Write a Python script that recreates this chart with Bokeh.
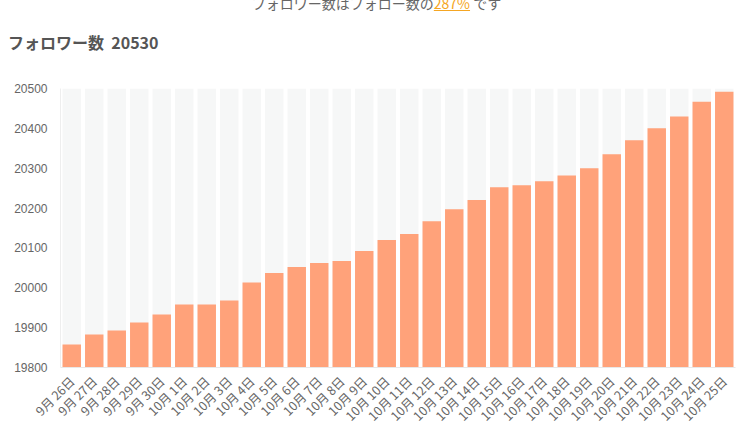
import math
from bokeh.plotting import figure
from bokeh.layouts import column
from bokeh.models import Range1d, FactorRange, FixedTicker, Div
from bokeh.embed import file_html
from bokeh.resources import INLINE

dates = ["9月 26日", "9月 27日", "9月 28日", "9月 29日", "9月 30日",
         "10月 1日", "10月 2日", "10月 3日", "10月 4日", "10月 5日",
         "10月 6日", "10月 7日", "10月 8日", "10月 9日", "10月 10日",
         "10月 11日", "10月 12日", "10月 13日", "10月 14日", "10月 15日",
         "10月 16日", "10月 17日", "10月 18日", "10月 19日", "10月 20日",
         "10月 21日", "10月 22日", "10月 23日", "10月 24日", "10月 25日"]
followers = [19858, 19883, 19893, 19913, 19933,
             19958, 19958, 19968, 20013, 20037,
             20052, 20062, 20067, 20092, 20120,
             20135, 20167, 20197, 20220, 20252,
             20257, 20267, 20282, 20300, 20335,
             20370, 20400, 20430, 20467, 20492]
y_ticks = [19800, 19900, 20000, 20100, 20200, 20300, 20400, 20500]
y_min, y_max = 19800, 20500
title_label = "フォロワー数"
title_count = "20530"
ratio_prefix = "フォロワー数はフォロー数の"
ratio_value = "287%"
ratio_suffix = " です"

JP = "Noto Sans CJK JP"

header_html = (
    f"<div style=\"position:relative;width:737px;height:60px;font-family:'{JP}',sans-serif;\">"
    f"<div style=\"position:absolute;left:0;top:3px;width:737px;text-align:center;"
    f"font-size:14px;line-height:16px;color:#666666;white-space:nowrap;\">"
    f"{ratio_prefix}<span style=\"color:#f5a623;text-decoration:underline;\">{ratio_value}</span>{ratio_suffix}</div>"
    f"<div style=\"position:absolute;left:0;top:42px;font-size:16px;line-height:16px;"
    f"font-weight:bold;color:#555555;white-space:nowrap;\">{title_label}&nbsp; {title_count}</div>"
    f"</div>"
)
header = Div(text=header_html, width=737, height=60, margin=(-8, 0, 0, 8))

p = figure(x_range=FactorRange(factors=dates), y_range=Range1d(y_min, y_max),
           width=737, height=378, frame_width=675, frame_height=279,
           min_border_left=52, min_border_right=10, min_border_top=36, min_border_bottom=63,
           output_backend="svg", toolbar_location=None)
p.margin = (0, 0, 0, 8)

p.vbar(x=dates, top=[y_max] * len(dates), bottom=y_min, width=0.82,
       fill_color="#f6f7f7", line_color=None)
p.vbar(x=dates, top=followers, bottom=y_min, width=0.82,
       fill_color="#ffa27a", line_color=None)

p.outline_line_color = None
p.xgrid.grid_line_color = None
p.ygrid.grid_line_color = None
p.background_fill_color = "white"

p.yaxis.ticker = FixedTicker(ticks=y_ticks)
p.yaxis.axis_line_color = "#eeeeee"
p.yaxis.major_tick_line_color = None
p.yaxis.minor_tick_line_color = None
p.yaxis.major_label_text_font = "Liberation Sans"
p.yaxis.major_label_text_font_size = "12px"
p.yaxis.major_label_text_color = "#666666"
p.yaxis.major_label_standoff = 7

p.xaxis.axis_line_color = "#e8e8e8"
p.xaxis.major_tick_line_color = None
p.xaxis.major_label_orientation = math.pi / 4
p.xaxis.major_label_text_font = JP
p.xaxis.major_label_text_font_size = "12.5px"
p.xaxis.major_label_text_color = "#666666"
p.xaxis.major_label_standoff = 5

layout = column(header, p, spacing=0, margin=0)

open("out.html", "w").write(file_html(layout, INLINE))
